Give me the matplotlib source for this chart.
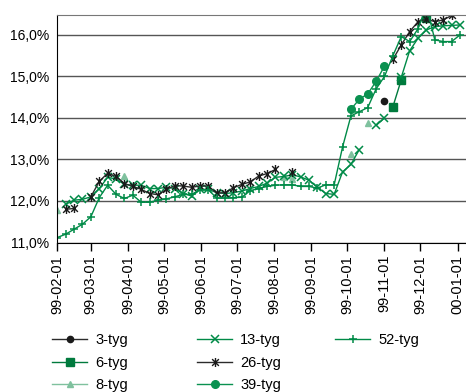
import matplotlib
matplotlib.use("Agg")
import matplotlib.pyplot as plt
import matplotlib.dates as mdates
import numpy as np
import pandas as pd
from matplotlib.path import Path
from matplotlib.ticker import FuncFormatter

plt.rcParams["font.family"] = ["Liberation Sans", "DejaVu Sans"]

nan = np.nan

# weekly observations starting 1999-02-01
weeks = pd.date_range("1999-02-01", periods=49, freq="7D")

tyg_3 = [nan] * 39 + [14.41] + [nan] * 9
tyg_6 = [nan] * 40 + [14.27, 14.92, nan, nan, 16.4] + [nan] * 4
tyg_8 = ([11.78] + [nan] * 7 + [12.6] + [nan] * 18 + [12.58, 12.52]
         + [nan] * 6 + [13.14, nan, 13.87] + [nan] * 11)
tyg_13 = [nan, 11.92, 12.02, 12.04, 12.1, 12.3, 12.57, 12.53, 12.4, 12.38,
          12.38, 12.3, 12.3, 12.33, 12.3, 12.18, 12.12, 12.28, 12.28, 12.2,
          12.18, 12.2, 12.24, 12.3, 12.35, 12.43, 12.57, 12.59, 12.63, 12.58,
          12.5, 12.33, 12.18, 12.16, 12.7, 12.88, 13.24, nan, 13.82, 14.0,
          nan, 14.98, 15.62, 15.92, 16.12, 16.2, 16.22, 16.23, 16.24]
tyg_26 = [nan, 11.8, 11.82, nan, 12.1, 12.47, 12.67, 12.59, 12.42, 12.35,
          12.28, 12.18, 12.15, 12.28, 12.37, 12.36, 12.33, 12.36, 12.36, 12.19,
          12.2, 12.32, 12.4, 12.46, 12.6, 12.66, 12.76, nan, 12.7, nan,
          nan, nan, nan, nan, nan, nan, nan, nan, nan, nan,
          15.41, 15.76, 16.08, 16.32, 16.38, 16.32, 16.36, 16.47, nan]
tyg_39 = [nan] * 35 + [14.21, 14.45, 14.58, 14.88, 15.25] + [nan] * 9
tyg_52 = [11.12, 11.2, 11.32, 11.44, 11.62, 12.08, 12.38, 12.16, 12.06, 12.14,
          11.97, 11.97, 12.02, 12.05, 12.1, 12.16, 12.16, 12.27, 12.27, 12.07,
          12.07, 12.08, 12.09, 12.25, 12.3, 12.35, 12.38, 12.39, 12.39, 12.35,
          12.35, 12.31, 12.39, 12.39, 13.3, 14.05, 14.15, 14.25, 14.7, 15.0,
          15.5, 15.96, 15.84, 16.15, 16.7, 15.88, 15.84, 15.84, 16.0]

month_ticks = pd.date_range("1999-02-01", "2000-01-01", freq="MS")

DARK = "#2b2b2b"
GREEN = "#008a47"
DARK_GREEN = "#007a3d"
LIGHT_GREEN = "#7fc19e"
MID_GREEN = "#0a9150"

# asterisk like the spreadsheet one: an x with a vertical bar
ASTERISK = Path(
    [(0, -1), (0, 1), (-0.75, -0.75), (0.75, 0.75), (-0.75, 0.75), (0.75, -0.75)],
    [Path.MOVETO, Path.LINETO, Path.MOVETO, Path.LINETO, Path.MOVETO, Path.LINETO],
)

series = [
    ("3-tyg", tyg_3, dict(color=DARK, marker="o", ms=4.5, mfc="#1a1a1a", mec="#1a1a1a")),
    ("6-tyg", tyg_6, dict(color=DARK_GREEN, marker="s", ms=5.5, mfc=DARK_GREEN, mec=DARK_GREEN)),
    ("8-tyg", tyg_8, dict(color=LIGHT_GREEN, marker="^", ms=5, mfc=LIGHT_GREEN, mec=LIGHT_GREEN)),
    ("13-tyg", tyg_13, dict(color=GREEN, marker="x", ms=5.5, mew=1.1)),
    ("26-tyg", tyg_26, dict(color=DARK, marker=ASTERISK, ms=6.5, mew=1.0, mec="#1a1a1a")),
    ("39-tyg", tyg_39, dict(color=MID_GREEN, marker="o", ms=5.5, mfc=MID_GREEN, mec=MID_GREEN)),
    ("52-tyg", tyg_52, dict(color=GREEN, marker="+", ms=6, mew=1.1)),
]

fig = plt.figure(figsize=(4.66, 3.92), dpi=100)
ax = fig.add_axes([57.3 / 466, 1 - 242.5 / 392, (466 - 57.3) / 466, 227.5 / 392])

handles = []
for label, values, style in series:
    (line,) = ax.plot(weeks, values, lw=1.0, label=label, **style)
    handles.append(line)

ax.set_xlim(pd.Timestamp("1999-02-01"), pd.Timestamp("2000-01-08"))
ax.set_ylim(11.0, 16.48)
ax.set_yticks([11, 12, 13, 14, 15, 16])
ax.yaxis.set_major_formatter(FuncFormatter(lambda v, _: f"{v:.1f}%".replace(".", ",")))
ax.set_xticks(month_ticks)
ax.xaxis.set_major_formatter(mdates.DateFormatter("%y-%m-%d"))
ax.tick_params(axis="x", direction="out", length=6, width=1, labelrotation=90,
               labelsize=10.5, pad=3, colors="black")
ax.tick_params(axis="y", length=0, labelsize=10, pad=6)
ax.grid(True, axis="y", color="#555555", lw=1.0)
ax.set_axisbelow(True)
ax.spines["right"].set_visible(False)
ax.spines["top"].set_color("#777777")
ax.spines["left"].set_color("black")
ax.spines["bottom"].set_color("black")

cols = [(52, handles[0:3]), (197, handles[3:6]), (335, handles[6:7])]
for x0, hs in cols:
    fig.legend(handles=hs, labels=[h.get_label() for h in hs], loc="upper left",
               bbox_to_anchor=(x0 / 466, 1 - 333 / 392), frameon=False,
               fontsize=10.5, handlelength=2.4, handletextpad=0.55,
               labelspacing=0.6, borderpad=0, borderaxespad=0)

fig.savefig("out.png", dpi=100)
